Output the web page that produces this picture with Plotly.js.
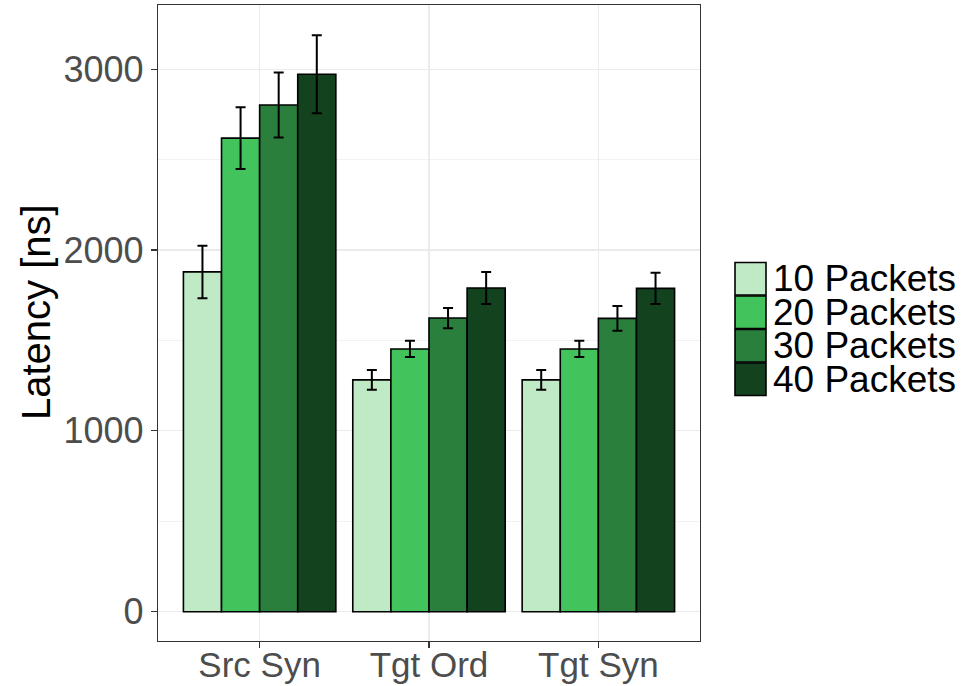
<!DOCTYPE html>
<html>
<head>
<meta charset="utf-8">
<script src="https://cdn.plot.ly/plotly-3.0.1.min.js"></script>
<style>html,body{margin:0;padding:0;background:#fff;}#chart{width:968px;height:686px;}</style>
</head>
<body>
<div id="chart"></div>
<script>
const categories = ["Src Syn", "Tgt Ord", "Tgt Syn"];
const seriesNames = ["10 Packets", "20 Packets", "30 Packets", "40 Packets"];
const seriesColors = ["#c0e9c6", "#42c35b", "#2a7f3c", "#13421f"];
const packets10 = [1879, 1282, 1282];
const packets20 = [2619, 1453, 1453];
const packets30 = [2802, 1624, 1622];
const packets40 = [2972, 1790, 1788];
const err10 = [145, 54, 55];
const err20 = [171, 45, 45];
const err30 = [180, 56, 68];
const err40 = [216, 88, 87];
const yTicks = [0, 1000, 2000, 3000];

const values = [packets10, packets20, packets30, packets40];
const errs = [err10, err20, err30, err40];

const W = 968, H = 686;
const M = {l: 158, r: 268, t: 5, b: 45};
const pw = W - M.l - M.r, ph = H - M.t - M.b;
const px2x = p => (p - M.l) / pw;
const py2y = p => (H - M.b - p) / ph;

const traces = seriesNames.map((name, i) => ({
  type: 'bar',
  name: name,
  x: categories,
  y: values[i],
  marker: {color: seriesColors[i], line: {color: '#000', width: 1.6}},
  error_y: {type: 'data', array: errs[i], visible: true, color: '#000', thickness: 2, width: 5},
  showlegend: false,
  hoverinfo: 'x+y'
}));

const shapes = [];
const annotations = [];
const rowH = 33.5, keyTop = 262, keyL = 735, keyR = 766;
seriesNames.forEach((name, i) => {
  const t = keyTop + i * rowH, b = t + rowH;
  shapes.push({type: 'rect', xref: 'paper', yref: 'paper',
    x0: px2x(keyL), x1: px2x(keyR), y0: py2y(b - 0.5), y1: py2y(t + 0.5),
    fillcolor: seriesColors[i], line: {color: '#000', width: 1.6}});
  annotations.push({xref: 'paper', yref: 'paper', x: px2x(771), y: py2y((t + b) / 2),
    xanchor: 'left', yanchor: 'middle', text: name, showarrow: false,
    font: {family: 'Liberation Sans, Arial, sans-serif', size: 37, color: '#000'}});
});
annotations.push({xref: 'paper', yref: 'paper', x: px2x(36), y: py2y(312),
  xanchor: 'center', yanchor: 'middle', text: 'Latency [ns]', textangle: -90, showarrow: false,
  font: {family: 'Liberation Sans, Arial, sans-serif', size: 40, color: '#000'}});

const layout = {
  width: W, height: H,
  margin: M,
  paper_bgcolor: '#fff', plot_bgcolor: '#fff',
  barmode: 'group', bargap: 0.1, bargroupgap: 0,
  font: {family: 'Liberation Sans, Arial, sans-serif'},
  xaxis: {
    type: 'category', range: [-0.6, 2.6],
    showgrid: true, gridcolor: '#ebebeb', gridwidth: 1.2,
    showline: true, mirror: true, linecolor: '#333', linewidth: 1.2,
    ticks: 'outside', ticklen: 6, tickcolor: '#333', tickwidth: 1.2,
    ticklabelstandoff: -13,
    tickfont: {size: 35, color: '#4d4d4d'}, zeroline: false, fixedrange: true
  },
  yaxis: {
    range: [-162, 3355], tickvals: yTicks, ticktext: yTicks.map(String),
    showgrid: true, gridcolor: '#ebebeb', gridwidth: 1.2,
    minor: {tickvals: [500, 1500, 2500], showgrid: true, gridcolor: '#f2f2f2', gridwidth: 1, ticks: ''},
    showline: true, mirror: true, linecolor: '#333', linewidth: 1.2,
    ticks: 'outside', ticklen: 6, tickcolor: '#333', tickwidth: 1.2,
    tickfont: {size: 36, color: '#4d4d4d'}, zeroline: false, fixedrange: true
  },
  shapes: shapes,
  annotations: annotations,
  showlegend: false
};

Plotly.newPlot('chart', traces, layout, {displayModeBar: false, staticPlot: true});
</script>
</body>
</html>
